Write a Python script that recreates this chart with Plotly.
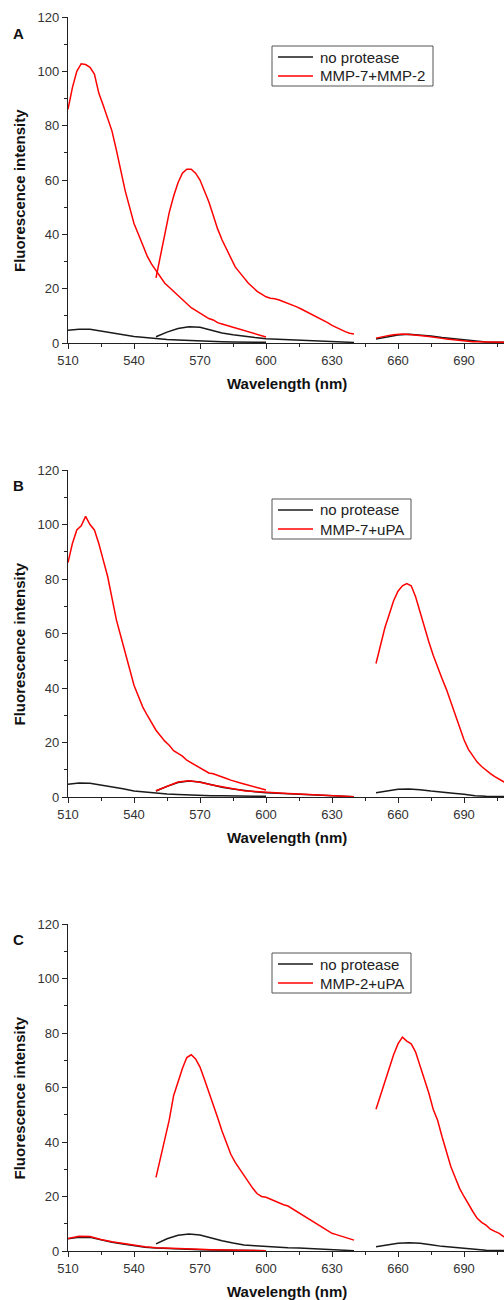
import plotly.graph_objects as go

# ---------------- data ----------------
# wavelength grids (nm) for the three emission windows
WL1_FINE = list(range(510, 601, 2))
WL2_FINE = list(range(550, 641, 2))
WL3_FINE = list(range(650, 721, 2))
WL1 = list(range(510, 601, 5))
WL2 = list(range(550, 641, 5))
WL3 = list(range(650, 721, 5))

X_TICKS = [510, 540, 570, 600, 630, 660, 690]
Y_TICKS = [0, 20, 40, 60, 80, 100, 120]

PANEL_LETTERS = ["A", "B", "C"]
RED_NAMES = ["MMP-7+MMP-2", "MMP-7+uPA", "MMP-2+uPA"]
BLACK_NAME = "no protease"

# ---- Panel A ----
A_black_1 = [4.7, 5.1, 5.1, 4.4, 3.9, 3.2, 2.4, 2.0, 1.6, 1.3, 1.1, 0.9, 0.7, 0.6, 0.5, 0.4, 0.35, 0.3, 0.25]
A_black_2 = [2.3, 4.0, 5.3, 6.0, 5.8, 4.8, 3.7, 3.0, 2.4, 2.0, 1.6, 1.4, 1.2, 1.0, 0.8, 0.6, 0.5, 0.35, 0.2]
A_black_3 = [1.5, 2.3, 2.9, 3.2, 3.0, 2.6, 2.0, 1.6, 1.1, 0.7, 0.4, 0.3, 0.2, 0.15, 0.1]
A_red_1 = [86, 94, 100, 102.8, 102.5, 101.5, 99, 92, 87.5, 83,
           78, 71, 63, 56, 50, 44, 40, 36, 32, 29,
           26.5, 24, 22, 20.5, 19, 17.5, 16, 14.5, 13, 12,
           11, 10, 9, 8.5, 7.5, 7, 6.5, 6, 5.5, 5,
           4.5, 4, 3.5, 3, 2.5, 2.2]
A_red_2 = [24, 32, 40, 48, 54, 59, 62.5, 64, 64, 62.5,
           60, 56, 52, 47, 42, 38, 34.5, 31, 28, 26,
           24, 22, 20.5, 19, 18, 17, 16.5, 16.3, 15.8, 15.2,
           14.5, 14, 13.3, 12.5, 11.7, 11, 10, 9.2, 8.5, 7.5,
           6.5, 5.7, 5, 4.2, 3.6, 3.3]
A_red_3 = [1.8, 2.2, 2.5, 2.8, 3.0, 3.2, 3.3, 3.2, 3.1, 3.0,
           2.8, 2.6, 2.4, 2.1, 1.9, 1.7, 1.5, 1.3, 1.1, 0.9,
           0.7, 0.6, 0.5, 0.45, 0.4, 0.35, 0.3, 0.25, 0.2, 0.2,
           0.2, 0.15, 0.1, 0.1, 0.1, 0.1]

# ---- Panel B ----
B_black_1 = [4.7, 5.1, 5.0, 4.4, 3.8, 3.0, 2.2, 1.8, 1.4, 1.1, 0.9, 0.7, 0.6, 0.5, 0.45, 0.4, 0.35, 0.3, 0.25]
B_black_2 = [2.2, 3.9, 5.3, 5.9, 5.5, 4.5, 3.6, 2.9, 2.3, 1.9, 1.6, 1.4, 1.2, 1.0, 0.8, 0.6, 0.4, 0.3, 0.1]
B_black_3 = [1.6, 2.3, 2.8, 2.9, 2.7, 2.2, 1.7, 1.4, 1.0, 0.5, 0.3, 0.2, 0.15, 0.1, 0.1]
B_red_1 = [86, 93, 98, 99.5, 103, 100, 98, 93, 87, 81,
           73, 65, 59, 53, 47, 41, 37, 33, 30, 27,
           24.5, 22.5, 20.5, 19, 17, 16, 15, 13.5, 12.5, 11.5,
           10.5, 9.5, 8.8, 8.5, 8, 7.5, 6.8, 6.2, 5.6, 5.2,
           4.8, 4.3, 3.8, 3.4, 3, 2.6]
B_red_2 = [2.3, 4.0, 5.5, 6.0, 5.4, 4.5, 3.8, 3.0, 2.3, 2.0, 1.7, 1.5, 1.3, 1.1, 0.9, 0.7, 0.5, 0.3, 0.1]
B_red_3 = [49, 56, 62, 67, 72, 75.5, 77.5, 78.3, 77.5, 73.5,
           68, 62, 57, 52, 47.5, 43.5, 39.5, 35, 30, 25.5,
           21, 17.5, 15, 12.8, 11.2, 9.8, 8.6, 7.5, 6.5, 5.6,
           5, 4.5, 4, 3.6, 3.3, 3]

# ---- Panel C ----
C_black_1 = [4.5, 5.0, 5.0, 4.0, 3.2, 2.6, 1.9, 1.4, 1.1, 0.9, 0.7, 0.6, 0.5, 0.4, 0.35, 0.3, 0.2, 0.15, 0.1]
C_black_2 = [2.6, 4.5, 5.8, 6.2, 5.9, 4.8, 3.8, 2.9, 2.2, 1.9, 1.6, 1.4, 1.2, 1.1, 0.9, 0.7, 0.5, 0.3, 0.1]
C_black_3 = [1.6, 2.3, 2.8, 3.0, 2.8, 2.3, 1.7, 1.4, 1.0, 0.5, 0.3, 0.2, 0.15, 0.1, 0.1]
C_red_1 = [4.6, 5.4, 5.3, 4.2, 3.4, 2.8, 2.1, 1.6, 1.2, 1.0, 0.8, 0.7, 0.6, 0.5, 0.4, 0.3, 0.2, 0.15, 0.1]
C_red_2 = [27, 34, 41, 48, 57, 62, 67, 71, 72, 70.5,
           67.5, 63, 58.5, 54, 49, 44, 39.5, 35.5, 32.5, 30,
           27.5, 25.5, 23, 21, 20, 19.7, 19, 18.5, 17.5, 17,
           16.5, 15.5, 14.5, 13.5, 12.5, 11.5, 10.5, 9.5, 8.5, 7.5,
           6.5, 6, 5.5, 5, 4.5, 4]
C_red_3 = [52, 57, 62, 67, 72, 76, 78.5, 77, 76, 73,
           68, 63, 58, 52, 48, 42, 36, 31, 27, 23,
           20, 17, 14.5, 12, 10.5, 9.5, 8, 7.2, 6.5, 5.3,
           4.5, 4, 3.5, 3, 2.7, 2.5]

PANELS = [
    ([(WL1, A_black_1), (WL2, A_black_2), (WL3, A_black_3)],
     [(WL1_FINE, A_red_1), (WL2_FINE, A_red_2), (WL3_FINE, A_red_3)]),
    ([(WL1, B_black_1), (WL2, B_black_2), (WL3, B_black_3)],
     [(WL1_FINE, B_red_1), (WL2, B_red_2), (WL3_FINE, B_red_3)]),
    ([(WL1, C_black_1), (WL2, C_black_2), (WL3, C_black_3)],
     [(WL1, C_red_1), (WL2_FINE, C_red_2), (WL3_FINE, C_red_3)]),
]

# ---------------- layout geometry ----------------
W, H = 504, 1300
L, R, T, B = 68, 0, 17, 49
PH = H - T - B
PW = W - L - R


def py(p):
    return (H - B - p) / PH


def px(p):
    return (p - L) / PW


PANEL_PIX = [(17, 343), (470, 797), (924, 1251)]
LEGEND_RIGHT = [433, 411, 411]
FONT = "Liberation Sans, Arial, Helvetica, sans-serif"
AX_COLOR = "#222222"
BLACK = "#1a1a1a"
RED = "#ff0000"


def join(segments):
    xs, ys = [], []
    for i, (x, y) in enumerate(segments):
        if i:
            xs.append(None)
            ys.append(None)
        xs.extend(x)
        ys.extend(y)
    return xs, ys


fig = go.Figure()
annotations = []
shapes = []
for i, (black_segs, red_segs) in enumerate(PANELS):
    sfx = "" if i == 0 else str(i + 1)
    bx, by = join(black_segs)
    rx, ry = join(red_segs)
    fig.add_trace(go.Scatter(x=bx, y=by, mode="lines", name=BLACK_NAME,
                             line=dict(color=BLACK, width=1.5), showlegend=False,
                             xaxis="x" + sfx, yaxis="y" + sfx))
    fig.add_trace(go.Scatter(x=rx, y=ry, mode="lines", name=RED_NAMES[i],
                             line=dict(color=RED, width=1.5), showlegend=False,
                             xaxis="x" + sfx, yaxis="y" + sfx))

    top, bot = PANEL_PIX[i]
    common = dict(showgrid=False, zeroline=False, showline=True, linecolor=AX_COLOR,
                  linewidth=1.3, ticks="outside", ticklen=5, tickwidth=1.2,
                  tickcolor=AX_COLOR, tickfont=dict(family=FONT, size=13, color="#333333"))
    fig.update_layout(**{
        "xaxis" + sfx: dict(common, range=[510, 510 + PW / 2.2], domain=[0, 1],
                            anchor="y" + sfx, tickvals=X_TICKS,
                            minor=dict(dtick=15, tick0=510, ticks="outside", ticklen=3,
                                       tickwidth=1.1, tickcolor=AX_COLOR)),
        "yaxis" + sfx: dict(common, range=[0, 120], domain=[py(bot), py(top)],
                            anchor="x" + sfx, tickvals=Y_TICKS,
                            minor=dict(dtick=10, tick0=0, ticks="outside", ticklen=3,
                                       tickwidth=1.1, tickcolor=AX_COLOR)),
    })

    # legend box (drawn in paper coordinates)
    ltop = top + 29
    shapes.append(dict(type="rect", xref="paper", yref="paper",
                       x0=px(272), x1=px(LEGEND_RIGHT[i]), y0=py(ltop + 40), y1=py(ltop),
                       line=dict(color="#555555", width=1), fillcolor="white", layer="above"))
    for j, (name, color) in enumerate([(BLACK_NAME, BLACK), (RED_NAMES[i], RED)]):
        yy = ltop + 11 + 19 * j
        shapes.append(dict(type="line", xref="paper", yref="paper",
                           x0=px(278), x1=px(313), y0=py(yy), y1=py(yy),
                           line=dict(color=color, width=1.6), layer="above"))
        annotations.append(dict(text=name, x=px(318), y=py(yy), xref="paper", yref="paper",
                                showarrow=False, xanchor="left", yanchor="middle",
                                font=dict(family=FONT, size=15, color="#222222")))

    annotations.append(dict(text="<b>%s</b>" % PANEL_LETTERS[i], x=px(18.5), y=py(top + 16),
                            xref="paper", yref="paper", showarrow=False,
                            xanchor="center", yanchor="middle",
                            font=dict(family=FONT, size=15, color="#111111")))
    annotations.append(dict(text="<b>Wavelength (nm)</b>", x=px(287), y=py(bot + 40),
                            xref="paper", yref="paper", showarrow=False,
                            xanchor="center", yanchor="middle",
                            font=dict(family=FONT, size=15, color="#111111")))
    annotations.append(dict(text="<b>Fluorescence intensity</b>", x=px(19),
                            y=py((top + bot) / 2 + 11), textangle=-90,
                            xref="paper", yref="paper", showarrow=False,
                            xanchor="center", yanchor="middle",
                            font=dict(family=FONT, size=15, color="#111111")))

fig.update_layout(width=W, height=H, margin=dict(l=L, r=R, t=T, b=B),
                  paper_bgcolor="white", plot_bgcolor="white",
                  showlegend=False, annotations=annotations, shapes=shapes,
                  font=dict(family=FONT))
fig.write_html("out.html", config={"displayModeBar": False},
               post_script="document.body.style.margin='0px';")
